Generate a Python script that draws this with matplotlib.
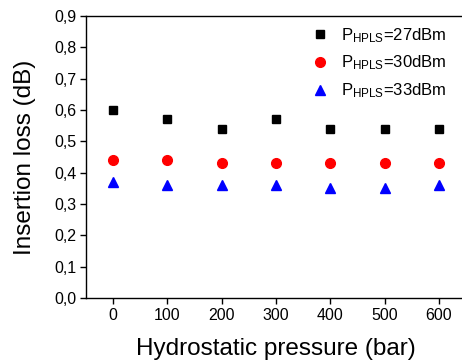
import matplotlib
matplotlib.use("Agg")
import matplotlib.pyplot as plt
from matplotlib.ticker import FuncFormatter, MultipleLocator

plt.rcParams['font.family'] = ['Liberation Sans', 'DejaVu Sans']
plt.rcParams['mathtext.fontset'] = 'custom'
plt.rcParams['mathtext.rm'] = 'Liberation Sans'
plt.rcParams['mathtext.it'] = 'Liberation Sans'

pressure = [0, 100, 200, 300, 400, 500, 600]
loss_27 = [0.60, 0.57, 0.54, 0.57, 0.54, 0.54, 0.54]
loss_30 = [0.44, 0.44, 0.43, 0.43, 0.43, 0.43, 0.43]
loss_33 = [0.37, 0.36, 0.36, 0.36, 0.35, 0.35, 0.36]
labels = [r'P$_{\mathrm{HPLS}}$=27dBm', r'P$_{\mathrm{HPLS}}$=30dBm', r'P$_{\mathrm{HPLS}}$=33dBm']

fig = plt.figure(figsize=(4.62, 3.6), dpi=100)
ax = fig.add_axes([0.186, 0.172, 1.009 - 0.186, 0.956 - 0.172])

ax.plot(pressure, loss_27, 's', color='black', ms=6, label=labels[0], linestyle='none')
ax.plot(pressure, loss_30, 'o', color='red', ms=7, label=labels[1], linestyle='none')
ax.plot(pressure, loss_33, '^', color='blue', ms=7.5, label=labels[2], linestyle='none')

ax.set_xlim(-50, 650)
ax.set_ylim(0, 0.9)
ax.set_xticks(pressure)
ax.yaxis.set_major_locator(MultipleLocator(0.1))
ax.yaxis.set_major_formatter(FuncFormatter(lambda v, p: f"{v:.1f}".replace('.', ',')))
ax.tick_params(direction='out', length=4, width=1, labelsize=11.5, colors='black', pad=3)
for s in ax.spines.values():
    s.set_linewidth(1)

ax.set_xlabel('Hydrostatic pressure (bar)', fontsize=17.5, labelpad=11)
ax.set_ylabel('Insertion loss (dB)', fontsize=17.5, labelpad=13)

leg = ax.legend(loc='upper right', bbox_to_anchor=(0.975, 1.0), frameon=False, fontsize=12,
                handlelength=1.0, handletextpad=0.8, labelspacing=0.55, borderaxespad=0.2)

fig.savefig('out.png', dpi=100)
